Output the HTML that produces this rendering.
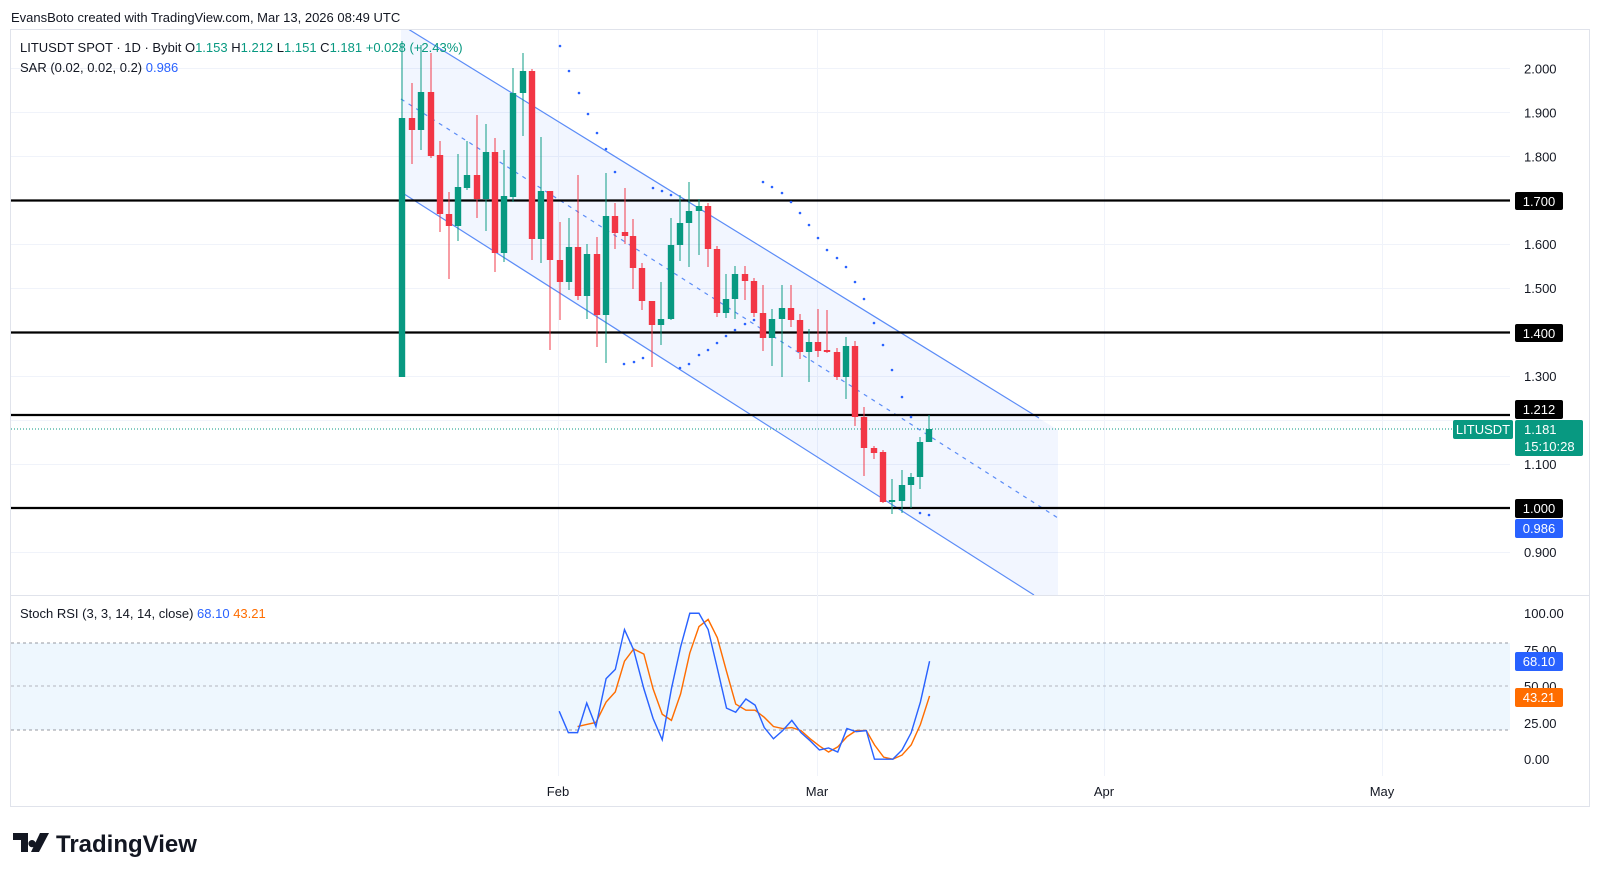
<!DOCTYPE html>
<html><head><meta charset="utf-8"><style>
html,body{margin:0;padding:0;background:#fff;width:1600px;height:876px;overflow:hidden}
svg{display:block;font-family:"Liberation Sans",Arial,sans-serif}
</style></head><body>
<svg id="s" width="1600" height="876" viewBox="0 0 1600 876" xmlns="http://www.w3.org/2000/svg">
<rect x="0" y="0" width="1600" height="876" fill="#fff"/>
<text x="11" y="22" font-size="13" fill="#131722">EvansBoto created with TradingView.com, Mar 13, 2026 08:49 UTC</text>
<rect x="10.5" y="29.5" width="1579" height="777" fill="none" stroke="#e0e3eb"/>
<line x1="11" y1="595.5" x2="1589" y2="595.5" stroke="#e0e3eb"/>
<g id="grid" stroke="#f0f3fa" stroke-width="1"></g>
<defs><clipPath id="cp"><rect x="11" y="30" width="1499" height="565"/></clipPath></defs>
<g clip-path="url(#cp)">
<polygon points="401,24.6 1058,430 1058,610 401,192" fill="#2962ff" fill-opacity="0.06"/>
<line x1="401" y1="24.6" x2="1039" y2="418" stroke="#5b8cf7" stroke-width="1.2"/>
<line x1="401" y1="192" x2="1034" y2="595" stroke="#5b8cf7" stroke-width="1.2"/>
<line x1="401" y1="99" x2="1058" y2="518" stroke="#5b8cf7" stroke-width="1.2" stroke-dasharray="4,5"/>
</g>
<line x1="11" y1="200.5" x2="1510" y2="200.5" stroke="#000" stroke-width="2.2"/>
<line x1="11" y1="332.5" x2="1510" y2="332.5" stroke="#000" stroke-width="2.2"/>
<line x1="11" y1="415" x2="1510" y2="415" stroke="#000" stroke-width="2.2"/>
<line x1="11" y1="508" x2="1510" y2="508" stroke="#000" stroke-width="2.2"/>
<line x1="11" y1="429" x2="1453" y2="429" stroke="#089981" stroke-width="1" stroke-dasharray="1,2"/>
<g id="candles"></g>
<g id="sar" fill="#2962ff"></g>
<g id="ticks" font-size="13" fill="#131722"></g>
<text x="20" y="52" font-size="13" fill="#131722">LITUSDT SPOT · 1D · Bybit <tspan>O</tspan><tspan fill="#089981">1.153</tspan> H<tspan fill="#089981">1.212</tspan> L<tspan fill="#089981">1.151</tspan> C<tspan fill="#089981">1.181</tspan> <tspan fill="#089981">+0.028 (+2.43%)</tspan></text>
<text x="20" y="72" font-size="13" fill="#131722">SAR (0.02, 0.02, 0.2) <tspan fill="#2962ff">0.986</tspan></text>
<rect x="1515" y="192" width="48" height="18" rx="2" fill="#000"/><text x="1539" y="206" font-size="13" fill="#fff" text-anchor="middle">1.700</text>
<rect x="1515" y="324" width="48" height="18" rx="2" fill="#000"/><text x="1539" y="338" font-size="13" fill="#fff" text-anchor="middle">1.400</text>
<rect x="1515" y="400" width="48" height="19" rx="2" fill="#000"/><text x="1539" y="414" font-size="13" fill="#fff" text-anchor="middle">1.212</text>
<rect x="1453" y="420" width="60" height="19" rx="2" fill="#089981"/><text x="1483" y="434" font-size="13" fill="#fff" text-anchor="middle">LITUSDT</text>
<rect x="1515" y="420" width="68" height="36" rx="2" fill="#089981"/><text x="1524" y="434" font-size="13" fill="#fff">1.181</text><text x="1524" y="451" font-size="13" fill="#fff">15:10:28</text>
<rect x="1515" y="499" width="48" height="19" rx="2" fill="#000"/><text x="1539" y="513" font-size="13" fill="#fff" text-anchor="middle">1.000</text>
<rect x="1515" y="519" width="48" height="19" rx="2" fill="#2962ff"/><text x="1539" y="533" font-size="13" fill="#fff" text-anchor="middle">0.986</text>
<rect x="11" y="643" width="1499" height="87" fill="#2196f3" fill-opacity="0.08"/>
<line x1="11" y1="643" x2="1510" y2="643" stroke="#9598a1" stroke-dasharray="3,3"/>
<line x1="11" y1="686" x2="1510" y2="686" stroke="#b2b5be" stroke-dasharray="3,3"/>
<line x1="11" y1="730" x2="1510" y2="730" stroke="#9598a1" stroke-dasharray="3,3"/>
<text x="20" y="618" font-size="13" fill="#131722">Stoch RSI (3, 3, 14, 14, close) <tspan fill="#2962ff">68.10</tspan> <tspan fill="#ff6d00">43.21</tspan></text>
<g font-size="13" fill="#131722">
<text x="1524" y="618">100.00</text><text x="1524" y="655">75.00</text><text x="1524" y="691">50.00</text><text x="1524" y="728">25.00</text><text x="1524" y="764">0.00</text>
</g>
<rect x="1515" y="652" width="48" height="19" rx="2" fill="#2962ff"/><text x="1539" y="666" font-size="13" fill="#fff" text-anchor="middle">68.10</text>
<rect x="1515" y="688" width="48" height="19" rx="2" fill="#ff6d00"/><text x="1539" y="702" font-size="13" fill="#fff" text-anchor="middle">43.21</text>
<g transform="scale(1.0204)" fill="none" stroke-width="1.4">
<polyline stroke="#ff6d00" points="566,712 575,710 584,708 594,688 603,678 612,648 621,636 631,641 640,675 649,700 658,706 667,680 676,640 685,614 694,607 703,625 712,658 721,690 731,696 740,696 749,703 758,712 767,714 776,713 785,716 794,724 803,731 812,737 821,732 830,722 839,716 849,716 857,730 866,742 875,744 884,740 893,730 902,710 911,682"/>
<polyline stroke="#2962ff" points="548,697 557,718 566,718 575,689 584,712 594,665 603,656 612,617 621,637 631,675 640,704 649,725 658,675 667,634 676,601 685,601 694,617 703,655 712,694 721,698 731,685 740,691 749,713 758,724 767,716 776,706 785,718 794,726 803,735 812,733 821,737 830,714 839,717 849,716 857,744 866,744 875,744 884,735 893,718 902,688 911,648"/>
</g>
<g font-size="13" fill="#131722" text-anchor="middle">
<text x="558" y="796">Feb</text><text x="817" y="796">Mar</text><text x="1104" y="796">Apr</text><text x="1382" y="796">May</text>
</g>
<g transform="translate(13,833)">
<path d="M0 0h15v19h-7v-12h-8z M19 7a3.6 3.6 0 1 0 0.01 0z" fill="#131722"/>
<path d="M27 0h9l-10 19h-8z" fill="#131722"/>
</g>
<text x="56" y="852" font-size="24" font-weight="bold" fill="#131722">TradingView</text>
</svg>
<script>
var NS="http://www.w3.org/2000/svg";
function el(p,t,a){var e=document.createElementNS(NS,t);for(var k in a)e.setAttribute(k,a[k]);p.appendChild(e);return e;}
var grid=document.getElementById('grid');
function py(p){return 508-(p-1)*439.6;}
var tk=document.getElementById('ticks');
[2.0,1.9,1.8,1.6,1.5,1.3,1.1,0.9].forEach(function(p){var y=py(p);el(tk,'text',{x:1524,y:y+5}).textContent=p.toFixed(3);});
[2.0,1.9,1.8,1.7,1.6,1.5,1.4,1.3,1.2,1.1,1.0,0.9].forEach(function(p){var y=Math.round(py(p))+0.5;el(grid,'line',{x1:11,y1:y,x2:1510,y2:y});});
[558,817,1104,1382].forEach(function(x){el(grid,'line',{x1:x+0.5,y1:30,x2:x+0.5,y2:776});});
var C=[[402,377,118,41,377],[412,118,130,83,164],[421,130,92,45,150],[431,92,156,53,158],[440,155,214,141,232],[449,214,226,192,279],[458,226,187,154,241],[467,188,175,141,190],[477,175,199,115,218],[486,199,152,124,231],[495,152,253,138,272],[504,253,196,150,262],[513,197,93,68,202],[523,93,71,53,136],[532,71,239,69,260],[541,239,191,137,263],[550,191,260,191,350],[560,260,282,222,320],[569,282,247,218,290],[578,247,296,175,300],[587,296,254,244,319],[597,254,315,237,347],[606,315,216,173,363],[615,216,233,203,249],[625,232,236,188,244],[633,236,268,219,289],[642,268,301,263,310],[652,301,325,301,367],[661,325,319,282,345],[671,319,245,218,320],[680,245,223,195,261],[689,223,211,182,267],[699,211,206,199,255],[708,206,249,203,267],[717,249,313,246,317],[726,313,299,274,318],[735,299,274,266,319],[745,274,281,266,300],[754,281,313,278,317],[763,313,338,285,351],[772,338,319,309,366],[782,319,308,285,377],[791,308,320,285,327],[800,320,352,314,359],[809,352,342,329,382],[818,342,351,309,357],[827,350,352,310,353],[837,352,377,348,380],[846,377,346,337,399],[855,346,417,341,426],[864,417,448,407,476],[874,448,453,446,459],[883,452,502,450,503],[892,502,500,479,514],[902,501,485,470,513],[911,485,477,473,508],[920,477,442,437,489],[929,442,429,415,442]];
var cg=document.getElementById('candles');
C.forEach(function(c){var up=c[2]<c[1];var col=up?'#089981':'#f23645';
el(cg,'line',{x1:c[0],y1:c[3],x2:c[0],y2:c[4],stroke:col,'stroke-opacity':0.75,'stroke-width':1.3});
var t=Math.min(c[1],c[2]),b=Math.max(c[1],c[2]);el(cg,'rect',{x:c[0]-3.2,y:t,width:6.4,height:Math.max(1.5,b-t),fill:col});});
var S=[[560,46],[569,71],[579,93],[588,114],[597,133],[606,149],[615,172],[624,364],[634,362],[643,358],[653,188],[662,191],[671,195],[680,368],[689,364],[699,355],[708,350],[717,343],[726,336],[735,330],[745,324],[754,320],[763,182],[772,187],[782,193],[791,202],[800,213],[809,225],[818,238],[827,250],[837,258],[846,267],[855,282],[864,299],[874,323],[883,345],[892,370],[902,397],[911,417],[920,513],[929,515]];
var sg=document.getElementById('sar');S.forEach(function(d){el(sg,'circle',{cx:d[0],cy:d[1],r:1.3});});
</script>
</body></html>
